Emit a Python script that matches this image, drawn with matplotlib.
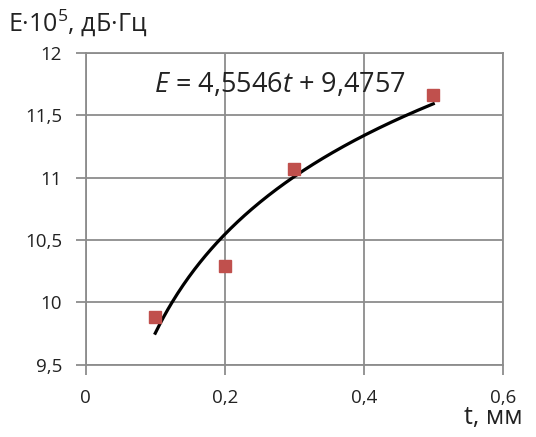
import numpy as np
import matplotlib.pyplot as plt

plt.rcParams["font.family"] = ["Open Sans", "DejaVu Sans"]
plt.rcParams["mathtext.fontset"] = "custom"
plt.rcParams["mathtext.rm"] = "Open Sans"
plt.rcParams["mathtext.it"] = "Open Sans:italic"

t = [0.1, 0.2, 0.3, 0.5]
E = [9.88, 10.29, 11.07, 11.66]
x_ticks = [0, 0.2, 0.4, 0.6]
x_labels = ["0", "0,2", "0,4", "0,6"]
y_ticks = [9.5, 10, 10.5, 11, 11.5, 12]
y_labels = ["9,5", "10", "10,5", "11", "11,5", "12"]

# logarithmic trend line, as in the original spreadsheet
a, b = np.polyfit(np.log(t), E, 1)
tt = np.linspace(min(t), max(t), 200)

fig = plt.figure(figsize=(5.36, 4.37), dpi=100)
ax = fig.add_axes([0.160, 0.165, 0.778, 0.714])

grid_c = "#8c8c8c"
ax.set_xlim(0, 0.6)
ax.set_ylim(9.5, 12)
ax.set_xticks(x_ticks)
ax.set_xticklabels(x_labels)
ax.set_yticks(y_ticks)
ax.set_yticklabels(y_labels)
ax.grid(True, color=grid_c, linewidth=1.3)
ax.set_axisbelow(True)
for s in ax.spines.values():
    s.set_color(grid_c)
    s.set_linewidth(1.3)
ax.tick_params(axis="both", colors=grid_c, length=7, width=1.3,
               labelsize=13.5, labelcolor="#222222")
ax.tick_params(axis="x", pad=10)
ax.tick_params(axis="y", pad=10)

ax.plot(tt, a * np.log(tt) + b, color="black", linewidth=2.3, zorder=3)
ax.plot(t, E, "s", color="#c0504d", markersize=9, zorder=4)

ax.text(0.280, 11.74, r"$\mathit{E}$ = 4,5546$\mathit{t}$ + 9,4757",
        fontsize=19.5, ha="center", va="center", color="#222222")

fig.text(0.015, 0.93, r"E·10$^5$, дБ·Гц", fontsize=18, ha="left",
         va="baseline", color="#222222")
fig.text(0.975, 0.045, "t, мм", fontsize=18, ha="right", va="center",
         color="#222222")

fig.savefig("out.png", dpi=100)
